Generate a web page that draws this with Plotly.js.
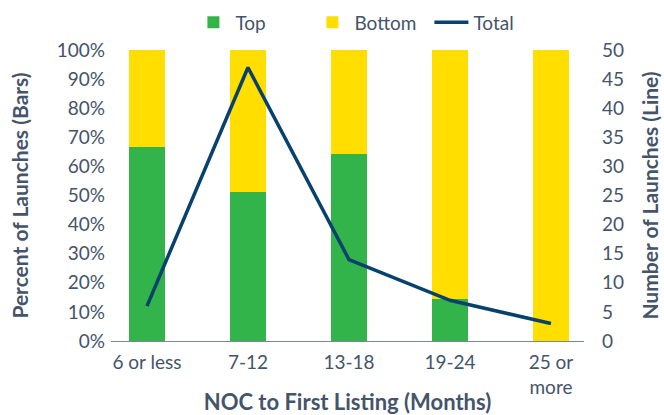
<!DOCTYPE html>
<html>
<head>
<meta charset="utf-8">
<script src="https://cdn.plot.ly/plotly-3.0.1.min.js"></script>
<style>
  body { margin: 0; background: #fff; }
  #chart { width: 664px; height: 415px; }
</style>
</head>
<body>
<div id="chart"></div>
<script>
// months from NOC to first listing
const categories = ["6 or less", "7-12", "13-18", "19-24", "25 or<br>more"];
const topPct = [66.7, 51.1, 64.3, 14.3, 0];
const bottomPct = [33.3, 48.9, 35.7, 85.7, 100];
const totalLaunches = [6, 47, 14, 7, 3];

const txtColor = "#44546A";
const tickFont = { family: "Lato, 'Open Sans', sans-serif", size: 19, color: txtColor };
const titleFont = { family: "Lato, 'Open Sans', sans-serif", size: 21, color: txtColor };

const traces = [
    {
        x: categories, y: topPct, name: "Top", type: "bar",
        marker: { color: "#32B44A" }, width: 0.35
    },
    {
        x: categories, y: bottomPct, name: "Bottom", type: "bar",
        marker: { color: "#FFDE00" }, width: 0.35
    },
    {
        x: categories, y: totalLaunches, name: "Total", type: "scatter", mode: "lines",
        yaxis: "y2", line: { color: "#07426F", width: 3.5 }
    }
];

const layout = {
    width: 664, height: 415,
    // keep the plot box fixed, the legend sits inside the top margin
    margin: { l: 111, r: 80, t: 50, b: 74, autoexpand: false },
    barmode: "stack",
    font: tickFont,
    showlegend: true,
    legend: {
        orientation: "h", x: 0.17, xanchor: "left", y: 1.095, yanchor: "middle",
        bgcolor: "rgba(0,0,0,0)",
        traceorder: "normal", font: tickFont, itemwidth: 34,
        entrywidth: 70, entrywidthmode: "pixels"
    },
    xaxis: {
        range: [-0.356, 4.327], showgrid: false, showline: true,
        linecolor: "#7B8794", linewidth: 1, ticks: "",
        tickfont: tickFont, ticklabelstandoff: 4,
        title: { text: "<b>NOC to First Listing (Months)</b>", font: { ...titleFont, size: 22 }, standoff: 4 }
    },
    yaxis: {
        range: [0, 100], dtick: 10, ticksuffix: "%", showgrid: false, zeroline: false,
        tickfont: tickFont, ticklabelstandoff: 5,
        title: { text: "<b>Percent of Launches (Bars)</b>", font: titleFont, standoff: 22 }
    },
    yaxis2: {
        range: [0, 50], dtick: 5, overlaying: "y", side: "right", showgrid: false, zeroline: false,
        tickfont: tickFont, ticklabelstandoff: 17,
        title: { text: "<b>Number of Launches (Line)</b>", font: titleFont, standoff: 20 }
    },
    plot_bgcolor: "#fff", paper_bgcolor: "#fff"
};

Plotly.newPlot("chart", traces, layout, { displayModeBar: false, staticPlot: true });
</script>
</body>
</html>
